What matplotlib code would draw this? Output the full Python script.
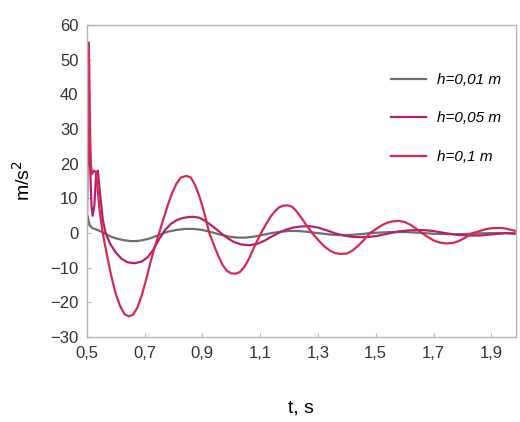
import matplotlib
matplotlib.use("Agg")
import matplotlib.pyplot as plt

plt.rcParams['font.family'] = ['Liberation Sans', 'DejaVu Sans']

# acceleration response, h = 0,01 m
t_h001 = [0.5, 0.502, 0.505, 0.51, 0.52, 0.54, 0.56, 0.58, 0.6, 0.625, 0.65, 0.67,
          0.69, 0.72, 0.75, 0.78, 0.81, 0.84, 0.87, 0.9, 0.93, 0.96, 0.99, 1.02,
          1.05, 1.08, 1.11, 1.14, 1.17, 1.2, 1.23, 1.26, 1.3, 1.34, 1.38, 1.42,
          1.46, 1.5, 1.55, 1.6, 1.65, 1.7, 1.75, 1.8, 1.85, 1.9, 1.95, 2.0]
a_h001 = [0, 5, 4, 2.2, 1.4, 0.8, 0, -0.9, -1.5, -2.0, -2.3, -2.3,
          -2.1, -1.5, -0.5, 0.4, 0.9, 1.2, 1.2, 0.9, 0.3, -0.4, -1.0, -1.3,
          -1.3, -1.0, -0.5, 0, 0.4, 0.6, 0.6, 0.4, 0, -0.4, -0.6, -0.5,
          -0.2, 0.1, 0.3, 0.3, 0.1, -0.2, -0.3, -0.3, -0.1, 0, 0, -0.1]

# acceleration response, h = 0,05 m
t_h005 = [0.5, 0.502, 0.505, 0.508, 0.512, 0.516, 0.52, 0.526, 0.532, 0.538, 0.545,
          0.555, 0.565, 0.58, 0.6, 0.62, 0.64, 0.665, 0.69, 0.71, 0.73, 0.75,
          0.77, 0.79, 0.81, 0.83, 0.85, 0.87, 0.89, 0.91, 0.93, 0.95, 0.97,
          0.99, 1.01, 1.035, 1.062, 1.09, 1.115, 1.14, 1.165, 1.19, 1.215, 1.24,
          1.27, 1.3, 1.33, 1.36, 1.39, 1.42, 1.46, 1.5, 1.54, 1.58, 1.62, 1.66,
          1.7, 1.74, 1.78, 1.82, 1.86, 1.9, 1.95, 2.0]
a_h005 = [0, 26, 32, 22, 18, 8, 5, 8, 17, 18, 12,
          4, 0, -3, -5.6, -7.4, -8.4, -8.7, -8.2, -7, -4.8, -1.8,
          0.8, 2.6, 3.7, 4.3, 4.6, 4.7, 4.4, 3.5, 2.3, 1.0, -0.4,
          -1.6, -2.6, -3.3, -3.5, -3.1, -2.2, -1.0, 0.1, 1.0, 1.6, 1.9,
          2.0, 1.6, 0.8, -0.1, -0.7, -1.1, -1.2, -0.9, -0.2, 0.5, 0.8, 0.9,
          0.6, 0, -0.5, -0.7, -0.7, -0.4, 0, -0.3]

# acceleration response, h = 0,1 m
t_h01 = [0.5, 0.502, 0.504, 0.506, 0.508, 0.511, 0.514, 0.518, 0.525, 0.532, 0.538,
         0.545, 0.555, 0.57, 0.585, 0.6, 0.615, 0.63, 0.645, 0.66, 0.675, 0.69,
         0.705, 0.72, 0.735, 0.75, 0.765, 0.78, 0.795, 0.81, 0.825, 0.845, 0.86,
         0.875, 0.89, 0.905, 0.924, 0.94, 0.955, 0.97, 0.985, 1.0, 1.016, 1.03,
         1.045, 1.06, 1.075, 1.09, 1.103, 1.12, 1.135, 1.15, 1.165, 1.18, 1.195,
         1.21, 1.225, 1.24, 1.255, 1.28, 1.3, 1.32, 1.34, 1.36, 1.38, 1.4, 1.42,
         1.44, 1.46, 1.48, 1.5, 1.52, 1.54, 1.56, 1.58, 1.6, 1.62, 1.64, 1.66,
         1.68, 1.7, 1.72, 1.745, 1.77, 1.79, 1.81, 1.835, 1.86, 1.88, 1.9, 1.93,
         1.95, 1.97, 2.0]
a_h01 = [0, 20, 45, 55, 50, 30, 20, 17, 18, 17.5, 12,
         6, 0, -6.5, -12.5, -17.5, -21, -23.3, -24, -23.5, -21.5, -18,
         -13.5, -8.5, -4, 0, 4, 8, 11.5, 14.2, 16, 16.5, 16,
         13.8, 10.5, 6.3, 0, -3.5, -6.6, -9.2, -10.9, -11.6, -11.7, -11.2,
         -9.8, -7.6, -4.8, -2.2, 0, 2.5, 4.6, 6.2, 7.4, 7.9, 8,
         7.6, 6.4, 4.7, 2.9, 0, -1.9, -3.7, -5, -5.8, -6, -5.9, -5,
         -3.6, -1.9, 0, 1.1, 2.2, 3.0, 3.4, 3.5, 3.2, 2.4, 1.3, 0,
         -1.1, -2.1, -2.7, -3, -2.8, -2.2, -1.3, 0, 0.6, 1.1, 1.4, 1.5,
         1.3, 0.9, 0.3]

x_ticks = [0.5, 0.7, 0.9, 1.1, 1.3, 1.5, 1.7, 1.9]
x_tick_labels = ['0,5', '0,7', '0,9', '1,1', '1,3', '1,5', '1,7', '1,9']
y_ticks = [-30, -20, -10, 0, 10, 20, 30, 40, 50, 60]

fig = plt.figure(figsize=(5.2, 4.22), dpi=100)
ax = fig.add_axes([0.167, 0.201, 0.825, 0.740])

ax.plot(t_h001, a_h001, color='#6e6e6e', lw=1.6, label='h=0,01 m')
ax.plot(t_h005, a_h005, color='#b5206c', lw=1.6, label='h=0,05 m')
ax.plot(t_h01, a_h01, color='#d42a52', lw=1.6, label='h=0,1 m')

ax.set_xlim(0.5, 1.985)
ax.set_ylim(-30, 60)
ax.set_xticks(x_ticks)
ax.set_xticklabels(x_tick_labels)
ax.set_yticks(y_ticks)

for s in ax.spines.values():
    s.set_color('#b4b4b4')
    s.set_linewidth(1.0)
ax.tick_params(axis='both', colors='#b4b4b4', labelcolor='#333333',
               labelsize=12, length=3, width=0.8, direction='in', pad=6)

ax.set_xlabel('t, s', fontsize=14, labelpad=28)
ax.set_ylabel('m/s$^2$', fontsize=14, labelpad=11.5)

leg = ax.legend(loc='upper right', bbox_to_anchor=(0.998, 0.89), frameon=False,
                prop={'style': 'italic', 'size': 11}, handlelength=2.3,
                labelspacing=1.6, handletextpad=0.7)

fig.savefig('out.png', dpi=100)
